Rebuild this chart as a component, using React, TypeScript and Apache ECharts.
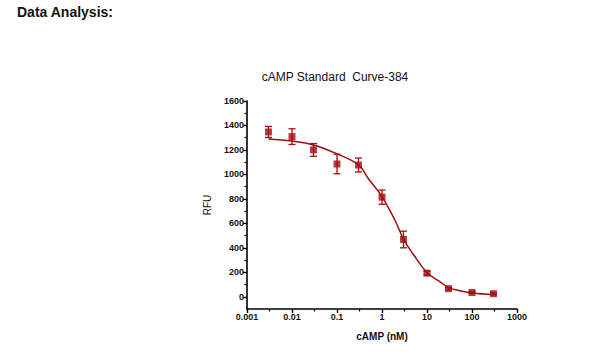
import React, { useEffect, useRef } from "react";
import * as echarts from "echarts";

// Measured points (cAMP nM, RFU, SD)
const pointX = [0.003, 0.01, 0.03, 0.1, 0.3, 1, 3, 10, 30, 100, 300];
const pointY = [1347, 1309, 1200, 1085, 1077, 814, 468, 193, 66, 35, 25];
const pointErr = [45, 64, 52, 80, 57, 58, 68, 15, 10, 8, 8];

// Fitted curve
const curveX = [0.003, 0.01, 0.03, 0.1, 0.3, 0.5, 1, 2, 3, 5, 10, 20, 30, 50, 100, 300];
const curveY = [1290, 1273, 1241, 1168, 1078, 965, 819, 615, 471, 345, 198, 120, 75, 52, 30, 18];

// Axis ticks
const yMajorTicks = [0, 200, 400, 600, 800, 1000, 1200, 1400, 1600];
const yMinorTicks = [100, 300, 500, 700, 900, 1100, 1300, 1500];

const RED = "#a30d10";
const FONT = "Liberation Sans, Arial, sans-serif";

export default function App() {
  const ref = useRef<HTMLDivElement>(null);
  useEffect(() => {
    if (!ref.current) return;
    const chart = echarts.init(ref.current, undefined, { renderer: "svg" });
    const points = pointX.map((x, i) => [x, pointY[i]]);
    const errData = pointX.map((x, i) => [x, pointY[i], pointErr[i]]);
    const curve = curveX.map((x, i) => [x, curveY[i]]);
    chart.setOption({
      animation: false,
      backgroundColor: "#ffffff",
      textStyle: { fontFamily: FONT },
      graphic: [
        {
          type: "text",
          x: 17,
          y: 12,
          style: {
            text: "Data Analysis:",
            font: `bold 14px ${FONT}`,
            fill: "#111",
            textVerticalAlign: "middle",
          },
        },
        {
          type: "text",
          x: 335,
          y: 77,
          style: {
            text: "cAMP Standard  Curve-384",
            font: `12px ${FONT}`,
            fill: "#111",
            textAlign: "center",
            textVerticalAlign: "middle",
          },
        },
      ],
      grid: { left: 247, right: 83, top: 101, bottom: 55, containLabel: false, outerBoundsMode: "none" },
      xAxis: [
        {
          type: "log",
          logBase: 10,
          min: 0.001,
          max: 1000,
          position: "bottom",
          name: "cAMP (nM)",
          nameLocation: "middle",
          nameGap: 22,
          nameTextStyle: { fontFamily: FONT, fontSize: 10, fontWeight: "bold", color: "#111" },
          axisLine: { show: true, onZero: false, lineStyle: { color: "#000", width: 1.6 } },
          axisTick: { show: true, length: 4, lineStyle: { color: "#000", width: 1.4 } },
          axisLabel: {
            fontFamily: FONT,
            fontSize: 9,
            fontWeight: "bold",
            color: "#111",
            margin: 3,
            formatter: (v: number) => (v >= 1 ? String(Math.round(v)) : String(+v.toPrecision(1))),
          },
          splitLine: { show: false },
          minorTick: { show: false },
        },
        {
          type: "value",
          min: -3,
          max: 3,
          interval: 1,
          position: "bottom",
          axisLine: { show: false, onZero: false },
          axisTick: { show: false },
          axisLabel: { show: false },
          splitLine: { show: false },
          minorTick: { show: true, splitNumber: 2, length: 2.5, lineStyle: { color: "#000", width: 1.2 } },
          minorSplitLine: { show: false },
        },
      ],
      yAxis: [
        {
          type: "value",
          min: -100,
          max: 1600,
          position: "left",
          name: "RFU",
          nameLocation: "middle",
          nameGap: 35,
          nameTextStyle: { fontFamily: FONT, fontSize: 10, color: "#111" },
          axisLine: { show: true, onZero: false, lineStyle: { color: "#000", width: 1.6 } },
          axisTick: { show: true, length: 4, customValues: yMajorTicks, lineStyle: { color: "#000", width: 1.4 } },
          axisLabel: {
            customValues: yMajorTicks,
            fontFamily: FONT,
            fontSize: 9,
            fontWeight: "bold",
            color: "#111",
            margin: 3,
            formatter: (v: number) => String(v),
          },
          splitLine: { show: false },
        },
        {
          type: "value",
          min: -100,
          max: 1600,
          position: "left",
          axisLine: { show: false, onZero: false },
          axisTick: { show: true, length: 2.5, customValues: yMinorTicks, lineStyle: { color: "#000", width: 1.2 } },
          axisLabel: { show: false },
          splitLine: { show: false },
        },
      ],
      series: [
        {
          type: "line",
          data: curve,
          xAxisIndex: 0,
          yAxisIndex: 0,
          smooth: 0.4,
          showSymbol: false,
          symbol: "none",
          lineStyle: { color: RED, width: 1.5 },
          z: 2,
        },
        {
          type: "custom",
          xAxisIndex: 0,
          yAxisIndex: 0,
          data: errData,
          encode: { x: 0, y: 1 },
          z: 3,
          renderItem: (params: any, api: any) => {
            const x = api.value(0);
            const y = api.value(1);
            const e = api.value(2);
            const top = api.coord([x, y + e]);
            const bot = api.coord([x, y - e]);
            const w = 3.5;
            const style = { stroke: RED, lineWidth: 1.3 };
            return {
              type: "group",
              children: [
                { type: "line", shape: { x1: top[0], y1: top[1], x2: bot[0], y2: bot[1] }, style },
                { type: "line", shape: { x1: top[0] - w, y1: top[1], x2: top[0] + w, y2: top[1] }, style },
                { type: "line", shape: { x1: bot[0] - w, y1: bot[1], x2: bot[0] + w, y2: bot[1] }, style },
              ],
            };
          },
        },
        {
          type: "scatter",
          data: points,
          xAxisIndex: 0,
          yAxisIndex: 0,
          symbol: "rect",
          symbolSize: 7,
          itemStyle: { color: RED },
          z: 4,
        },
      ],
    });
    return () => chart.dispose();
  }, []);
  return (
    <div
      ref={ref}
      style={{ position: "fixed", left: 0, top: 0, width: 600, height: 364, background: "#fff" }}
    />
  );
}
